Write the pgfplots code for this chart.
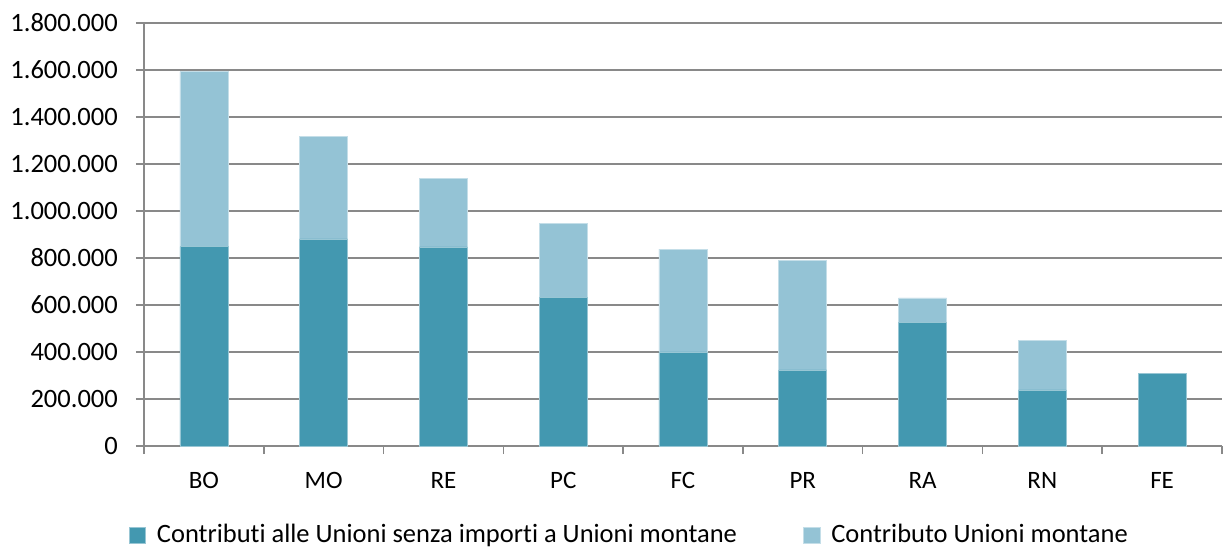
\documentclass[border=0pt]{standalone}
\usepackage{fontspec}
\setmainfont{Carlito}[Ligatures=CommonOff]
\usepackage{pgfplots}
\pgfplotsset{compat=1.18}
\definecolor{dark}{HTML}{4398B0}
\definecolor{light}{HTML}{94C3D5}
\definecolor{gridc}{HTML}{898989}
\begin{document}
\fontsize{26.5bp}{32bp}\selectfont
\begin{tikzpicture}
\begin{axis}[name=ax,
  scale only axis, width=1078bp, height=423bp,
  xmin=-0.5, xmax=8.5, ymin=0, ymax=1800000,
  ybar stacked, bar width=48bp,
  axis x line*=bottom, axis y line*=left,
  axis line style={gridc, line width=1.5bp, -},
  xtick={-0.5,0.5,...,8.5}, xticklabels={},
  extra x ticks={0,1,2,3,4,5,6,7,8},
  extra x tick labels={BO,MO,RE,PC,FC,PR,RA,RN,FE},
  extra x tick style={major tick length=0pt, xticklabel style={inner sep=0pt, anchor=north, yshift=-26bp, font=\fontsize{25bp}{30bp}\selectfont}},
  ytick={0,200000,400000,600000,800000,1000000,1200000,1400000,1600000,1800000},
  yticklabels={0,200.000,400.000,600.000,800.000,1.000.000,1.200.000,1.400.000,1.600.000,1.800.000},
  scaled y ticks=false,
  yticklabel style={inner sep=0pt, anchor=east, xshift=-18bp, font=\fontsize{26.5bp}{32bp}\selectfont},
  ymajorgrids, major grid style={gridc, line width=1.5bp},
  tick align=outside, major tick length=8bp,
  tick style={gridc, line width=1.5bp},
  legend image code/.code={\fill[#1] (0bp,-8bp) rectangle (16.5bp,8bp);},
  legend columns=2,
  legend style={at={(-0.0144,-0.212)}, anchor=west, draw=none, fill=none,
    font=\fontsize{26.5bp}{32bp}\selectfont, inner sep=0pt,
    nodes={inner sep=0pt, anchor=west},
    /tikz/every odd column/.append style={column sep=11bp},
    /tikz/every even column/.append style={column sep=66bp}},
]
\addplot[fill=dark, draw=dark!55!white, line width=0.75bp] coordinates {
  (0,848000) (1,881000) (2,847000) (3,631500) (4,400000) (5,323600) (6,525000) (7,238500) (8,309500)};
\addlegendentry{Contributi alle Unioni senza importi a Unioni montane}
\addplot[fill=light, draw=light!55!white, line width=0.75bp] coordinates {
  (0,744500) (1,435000) (2,290000) (3,315100) (4,437600) (5,467100) (6,105000) (7,212500) (8,0)};
\addlegendentry{Contributo Unioni montane}
\end{axis}
\pgfresetboundingbox
\path[use as bounding box] ([xshift=-144bp,yshift=-102bp]ax.south west) rectangle ++(1223bp,548bp);
\end{tikzpicture}
\end{document}
